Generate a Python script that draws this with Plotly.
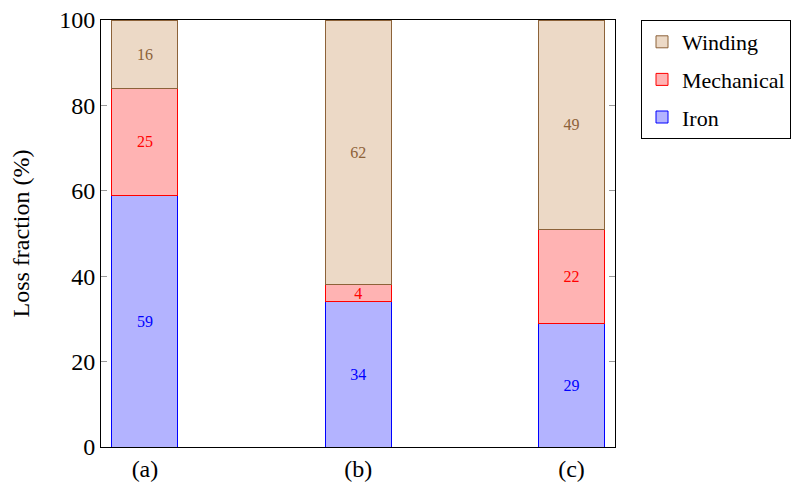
import plotly.graph_objects as go

categories = ["(a)", "(b)", "(c)"]
iron = [59, 34, 29]
mechanical = [25, 4, 22]
winding = [16, 62, 49]
y_ticks = [0, 20, 40, 60, 80, 100]

FONT = "Liberation Serif"

series = [
    ("Iron", iron, "#b3b3ff", "#0000ff", "#0000ff", 3),
    ("Mechanical", mechanical, "#ffb3b3", "#ff0000", "#ff0000", 2),
    ("Winding", winding, "#ecd9c6", "#8c6239", "#8c6239", 1),
]

fig = go.Figure()
for name, vals, fill, line, tcol, rank in series:
    fig.add_trace(go.Bar(
        x=list(range(len(categories))), y=vals, name=name,
        legendgroup=name, legendrank=rank,
        marker=dict(color=fill, line=dict(color=line, width=1)),
        text=[str(v) for v in vals], textposition="inside",
        insidetextanchor="middle", textangle=0,
        textfont=dict(color=tcol, size=16, family=FONT),
        width=0.31,
    ))

# page body has an 8px margin, so the figure is shrunk by 8px on left/top
fig.update_layout(
    barmode="stack",
    width=796, height=474,
    margin=dict(l=93, r=189, t=12, b=35, autoexpand=False),
    plot_bgcolor="white", paper_bgcolor="white",
    font=dict(family=FONT, size=24, color="black"),
    showlegend=True,
    legend=dict(
        x=1.0506, y=1.0, xanchor="left", yanchor="top",
        traceorder="grouped",
        tracegroupgap=6,
        bordercolor="black", borderwidth=1,
        font=dict(size=22, family=FONT),
        bgcolor="white",
    ),
    uniformtext=dict(minsize=16, mode="show"),
)
fig.update_xaxes(
    range=[-0.206, 2.204], automargin=False,
    tickvals=list(range(len(categories))), ticktext=categories,
    showline=True, linecolor="black", linewidth=1, mirror=True,
    showgrid=False, ticks="", zeroline=False,
    tickfont=dict(size=24, family=FONT), ticklabeloverflow="allow",
)
fig.update_yaxes(
    range=[0, 100], tickvals=y_ticks, automargin=False,
    showline=True, linecolor="black", linewidth=1, mirror="ticks",
    ticks="inside", ticklen=6, tickcolor="#999999",
    showgrid=False, zeroline=False,
    title=dict(text="Loss fraction (%)", font=dict(size=24, family=FONT), standoff=22),
    tickfont=dict(size=24, family=FONT), ticklabeloverflow="allow",
)

fig.write_html("out.html")
